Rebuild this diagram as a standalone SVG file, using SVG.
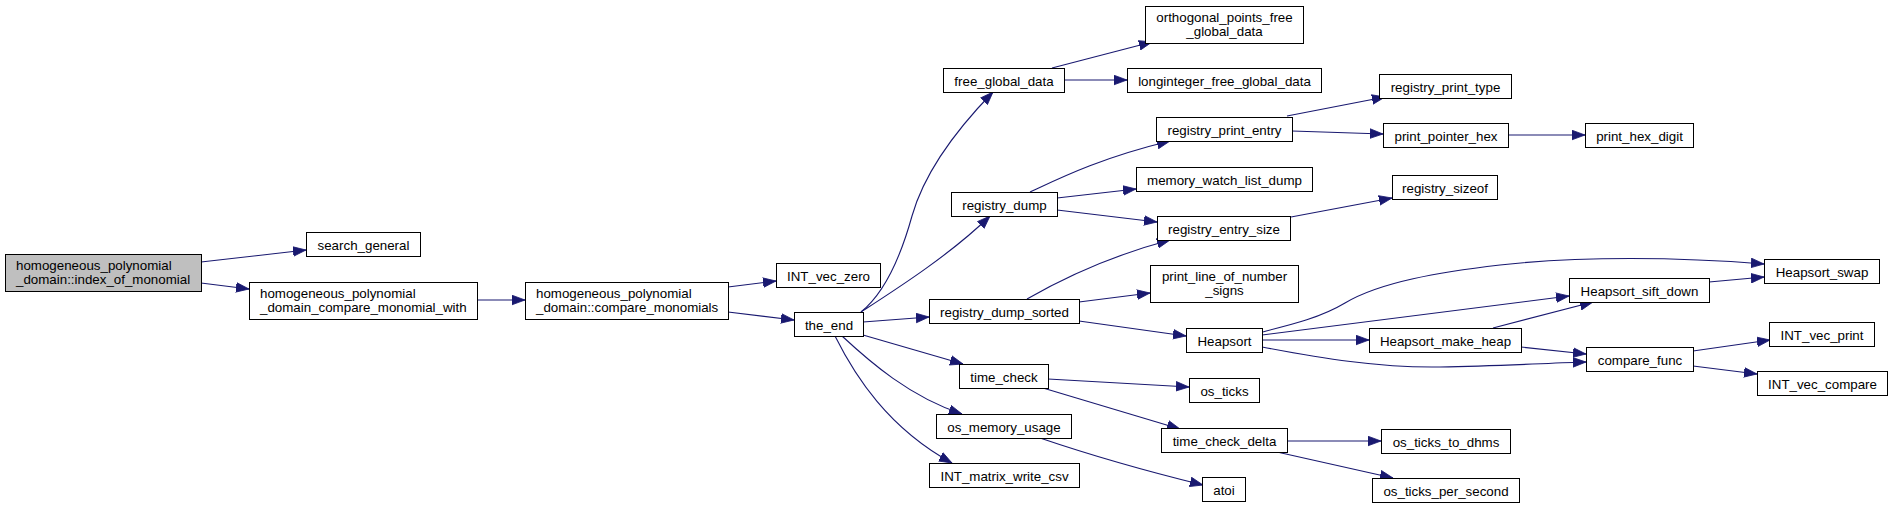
<svg xmlns="http://www.w3.org/2000/svg" width="1893" height="509" viewBox="0 0 1893 509">
<style>
.n rect{fill:#ffffff;stroke:#000000;stroke-width:1}
.n.root rect{fill:#bfbfbf}
text{font-family:"Liberation Sans",Arial,Helvetica,sans-serif;font-size:13.33px;fill:#000000;text-anchor:middle}
.n text.l{text-anchor:start}
.e path{fill:none;stroke:#191970;stroke-width:1.1;marker-end:url(#ah)}
</style>
<defs>
<marker id="ah" markerUnits="userSpaceOnUse" markerWidth="14" markerHeight="11" refX="13" refY="4.8" orient="auto" viewBox="0 0 14 10">
<path d="M0,0 L13,4.8 L0,9.6 Z" fill="#191970" stroke="#191970" stroke-width="0.8"/>
</marker>
</defs>
<rect width="1893" height="509" fill="#ffffff"/>
<g id="connectors" class="e">
<path d="M201,262 L306,250"/>
<path d="M201,283 L249,289"/>
<path d="M477,300 L525,300"/>
<path d="M728,287 L776,281"/>
<path d="M728,312 L794,320"/>
<path d="M861,312 C886,292 902,252 912,216 C925,170 958,128 993,92"/>
<path d="M861,312 C895,290 950,255 990,216"/>
<path d="M863,322 L929,317"/>
<path d="M863,335 L963,364"/>
<path d="M842,336 C870,362 910,397 962,414"/>
<path d="M835,336 C855,376 888,428 952,463"/>
<path d="M1052,68 L1152,42"/>
<path d="M1064,80 L1127,80"/>
<path d="M1030,192 C1060,178 1100,158 1170,141"/>
<path d="M1057,198 L1136,189"/>
<path d="M1057,210 L1157,222"/>
<path d="M1027,299 C1060,280 1110,256 1170,240"/>
<path d="M1079,302 L1150,293"/>
<path d="M1079,321 L1186,336"/>
<path d="M1048,379 L1189,387"/>
<path d="M1043,388 L1180,429"/>
<path d="M1040,438 C1090,455 1150,472 1203,485"/>
<path d="M1287,441 L1381,441"/>
<path d="M1277,452 L1393,478"/>
<path d="M1287,116 L1385,97"/>
<path d="M1292,131 L1383,134"/>
<path d="M1508,135 L1585,135"/>
<path d="M1291,217 L1392,198"/>
<path d="M1262,332 C1290,325 1320,318 1345,303 C1380,282 1440,272 1500,265 C1580,256 1680,257 1764,264"/>
<path d="M1262,335 L1569,296"/>
<path d="M1262,340 L1369,340"/>
<path d="M1262,347 C1320,358 1380,368 1440,367 C1500,366 1550,363 1586,362"/>
<path d="M1493,328 L1593,302"/>
<path d="M1521,347 L1586,354"/>
<path d="M1709,282 L1764,277"/>
<path d="M1693,351 L1770,340"/>
<path d="M1693,366 L1757,374"/>
</g>
<g id="index_of_monomial" class="n root"><rect x="5.5" y="254.5" width="196" height="37"/><text class="l" x="16" y="270">homogeneous_polynomial</text><text class="l" x="16" y="284">_domain::index_of_monomial</text></g>
<g id="search_general" class="n"><rect x="306.5" y="232.5" width="114" height="24"/><text x="363.5" y="249.5">search_general</text></g>
<g id="compare_monomial_with" class="n"><rect x="249.5" y="282.5" width="228" height="37"/><text class="l" x="260" y="298">homogeneous_polynomial</text><text class="l" x="260" y="312">_domain_compare_monomial_with</text></g>
<g id="compare_monomials" class="n"><rect x="525.5" y="282.5" width="203" height="37"/><text class="l" x="536" y="298">homogeneous_polynomial</text><text class="l" x="536" y="312">_domain::compare_monomials</text></g>
<g id="INT_vec_zero" class="n"><rect x="776.5" y="263.5" width="104" height="24"/><text x="828.5" y="280.5">INT_vec_zero</text></g>
<g id="the_end" class="n"><rect x="794.5" y="312.5" width="69" height="24"/><text x="829" y="329.5">the_end</text></g>
<g id="free_global_data" class="n"><rect x="943.5" y="68.5" width="121" height="24"/><text x="1004" y="85.5">free_global_data</text></g>
<g id="orthogonal_points_free_global_data" class="n"><rect x="1145.5" y="6.5" width="158" height="37"/><text x="1224.5" y="22">orthogonal_points_free</text><text x="1224.5" y="36">_global_data</text></g>
<g id="longinteger_free_global_data" class="n"><rect x="1127.5" y="68.5" width="194" height="24"/><text x="1224.5" y="85.5">longinteger_free_global_data</text></g>
<g id="registry_dump" class="n"><rect x="951.5" y="192.5" width="106" height="24"/><text x="1004.5" y="209.5">registry_dump</text></g>
<g id="registry_print_entry" class="n"><rect x="1156.5" y="117.5" width="136" height="24"/><text x="1224.5" y="134.5">registry_print_entry</text></g>
<g id="memory_watch_list_dump" class="n"><rect x="1136.5" y="167.5" width="176" height="24"/><text x="1224.5" y="184.5">memory_watch_list_dump</text></g>
<g id="registry_entry_size" class="n"><rect x="1157.5" y="216.5" width="133" height="24"/><text x="1224" y="233.5">registry_entry_size</text></g>
<g id="registry_dump_sorted" class="n"><rect x="929.5" y="299.5" width="150" height="24"/><text x="1004.5" y="316.5">registry_dump_sorted</text></g>
<g id="print_line_of_number_signs" class="n"><rect x="1150.5" y="265.5" width="148" height="37"/><text x="1224.5" y="281">print_line_of_number</text><text x="1224.5" y="295">_signs</text></g>
<g id="Heapsort" class="n"><rect x="1186.5" y="328.5" width="76" height="24"/><text x="1224.5" y="345.5">Heapsort</text></g>
<g id="time_check" class="n"><rect x="959.5" y="364.5" width="89" height="24"/><text x="1004" y="381.5">time_check</text></g>
<g id="os_ticks" class="n"><rect x="1189.5" y="378.5" width="70" height="24"/><text x="1224.5" y="395.5">os_ticks</text></g>
<g id="os_memory_usage" class="n"><rect x="936.5" y="414.5" width="135" height="24"/><text x="1004" y="431.5">os_memory_usage</text></g>
<g id="time_check_delta" class="n"><rect x="1161.5" y="428.5" width="126" height="24"/><text x="1224.5" y="445.5">time_check_delta</text></g>
<g id="INT_matrix_write_csv" class="n"><rect x="929.5" y="463.5" width="150" height="24"/><text x="1004.5" y="480.5">INT_matrix_write_csv</text></g>
<g id="atoi" class="n"><rect x="1202.5" y="477.5" width="43" height="24"/><text x="1224" y="494.5">atoi</text></g>
<g id="registry_print_type" class="n"><rect x="1379.5" y="74.5" width="132" height="24"/><text x="1445.5" y="91.5">registry_print_type</text></g>
<g id="print_pointer_hex" class="n"><rect x="1383.5" y="123.5" width="125" height="24"/><text x="1446" y="140.5">print_pointer_hex</text></g>
<g id="print_hex_digit" class="n"><rect x="1585.5" y="123.5" width="108" height="24"/><text x="1639.5" y="140.5">print_hex_digit</text></g>
<g id="registry_sizeof" class="n"><rect x="1392.5" y="175.5" width="105" height="24"/><text x="1445" y="192.5">registry_sizeof</text></g>
<g id="os_ticks_to_dhms" class="n"><rect x="1381.5" y="429.5" width="129" height="24"/><text x="1446" y="446.5">os_ticks_to_dhms</text></g>
<g id="os_ticks_per_second" class="n"><rect x="1372.5" y="478.5" width="147" height="24"/><text x="1446" y="495.5">os_ticks_per_second</text></g>
<g id="Heapsort_swap" class="n"><rect x="1764.5" y="259.5" width="115" height="24"/><text x="1822" y="276.5">Heapsort_swap</text></g>
<g id="Heapsort_sift_down" class="n"><rect x="1569.5" y="278.5" width="140" height="24"/><text x="1639.5" y="295.5">Heapsort_sift_down</text></g>
<g id="Heapsort_make_heap" class="n"><rect x="1369.5" y="328.5" width="152" height="24"/><text x="1445.5" y="345.5">Heapsort_make_heap</text></g>
<g id="compare_func" class="n"><rect x="1586.5" y="347.5" width="107" height="24"/><text x="1640" y="364.5">compare_func</text></g>
<g id="INT_vec_print" class="n"><rect x="1769.5" y="322.5" width="105" height="24"/><text x="1822" y="339.5">INT_vec_print</text></g>
<g id="INT_vec_compare" class="n"><rect x="1757.5" y="371.5" width="130" height="24"/><text x="1822.5" y="388.5">INT_vec_compare</text></g>
</svg>
